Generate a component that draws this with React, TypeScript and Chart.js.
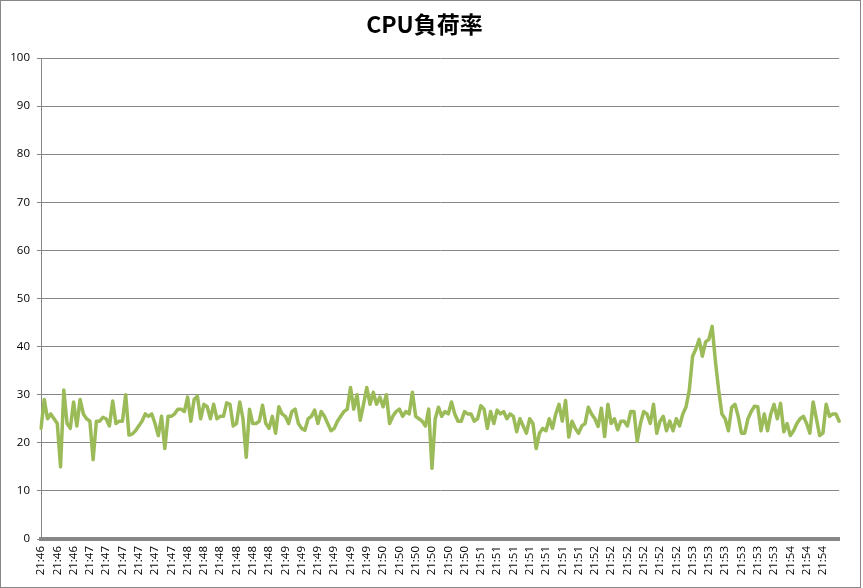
import React, { useEffect, useRef } from "react";
import { Chart, registerables } from "chart.js";

Chart.register(...registerables);

const TITLE = "CPU負荷率";

const TICK_LABELS = [
  "21:46", "21:46", "21:46",
  "21:47", "21:47", "21:47", "21:47", "21:47", "21:47",
  "21:48", "21:48", "21:48", "21:48", "21:48", "21:48",
  "21:49", "21:49", "21:49", "21:49", "21:49", "21:49",
  "21:50", "21:50", "21:50", "21:50", "21:50", "21:50",
  "21:51", "21:51", "21:51", "21:51", "21:51", "21:51", "21:51",
  "21:52", "21:52", "21:52", "21:52", "21:52", "21:52",
  "21:53", "21:53", "21:53", "21:53", "21:53", "21:53",
  "21:54", "21:54", "21:54",
];

const POINTS_PER_LABEL = 5;

const CPU_LOAD = [
  23, 29, 25, 26, 25, 24, 15, 31, 24, 23,
  28.5, 23.5, 29, 26, 25, 24.5, 16.5, 24.5, 24.5, 25.3,
  25, 23.5, 28.7, 24, 24.5, 24.5, 30, 21.6, 21.8, 22.5,
  23.5, 24.5, 26, 25.5, 26, 24, 21.5, 25.5, 18.8, 25.5,
  25.5, 26, 27, 27, 26.5, 29.5, 24.5, 29, 29.7, 25,
  28, 27.5, 25, 28, 25, 25.5, 25.5, 28.3, 28, 23.5,
  24, 28.5, 25, 17, 27, 24, 24, 24.5, 27.8, 24,
  23, 25.5, 22, 27.5, 26, 25.5, 24, 26.5, 27, 24,
  23, 22.6, 25, 25.5, 26.8, 24, 26.5, 25.5, 24, 22.5,
  23, 24.5, 25.5, 26.5, 27, 31.5, 27, 30, 24.7, 28,
  31.5, 28, 30.5, 28, 29.5, 27.5, 30, 24, 25.5, 26.5,
  27, 25.5, 26.5, 26, 30.5, 25.5, 25, 24.5, 23.5, 27,
  14.7, 25, 27.4, 25.5, 26.5, 26, 28.5, 26, 24.5, 24.5,
  26.5, 26, 26, 24.5, 25, 27.7, 27, 23, 26.5, 24,
  26.8, 26, 26.5, 25, 26, 25.5, 22.3, 25, 23.5, 22,
  25, 24, 18.8, 22, 23, 22.5, 25, 23, 26, 28,
  24.5, 28.8, 21.2, 24.5, 23, 22, 23.5, 24, 27.4, 26,
  25, 23.4, 27.2, 21.3, 28, 24, 25, 22.7, 24.5, 24.5,
  23.5, 26.5, 26.5, 20.3, 24, 26.5, 26, 24, 28, 22,
  24.5, 25.5, 22.5, 24.5, 22.5, 25, 23.5, 26, 27.5, 31,
  38, 39.5, 41.5, 38, 41, 41.5, 44.2, 37, 31, 26,
  25, 22.5, 27.4, 28, 25.5, 22, 22, 25, 26.5, 27.6,
  27.5, 22.5, 26, 22.5, 26, 28, 25, 28.2, 22.3, 24,
  21.5, 22.5, 24, 25, 25.5, 24, 22, 28.5, 25, 21.5,
  22, 28, 25.5, 26, 26, 24.5,
];

const Y_MIN = 0;
const Y_MAX = 100;
const Y_STEP = 10;

const CATEGORIES = CPU_LOAD.map((_, i) =>
  i % POINTS_PER_LABEL === 0 ? TICK_LABELS[i / POINTS_PER_LABEL] ?? "" : ""
);

export default function App() {
  const ref = useRef<HTMLCanvasElement>(null);

  useEffect(() => {
    document.body.style.margin = "0";
    const canvas = ref.current;
    if (!canvas) return;
    const axisFont = { family: '"Open Sans", "Liberation Sans", sans-serif', size: 11.5 };
    const chart = new Chart(canvas, {
      type: "line",
      data: {
        labels: CATEGORIES,
        datasets: [
          {
            data: CPU_LOAD,
            borderColor: "#9BBB59",
            backgroundColor: "#9BBB59",
            borderWidth: 3.5,
            pointRadius: 0,
            tension: 0,
            borderJoinStyle: "round",
            borderCapStyle: "round",
            fill: false,
          },
        ],
      },
      options: {
        responsive: false,
        animation: false,
        layout: { padding: { left: 0, right: 12, top: 0, bottom: 0 } },
        plugins: {
          legend: { display: false },
          tooltip: { enabled: false },
          title: {
            display: true,
            text: TITLE,
            color: "#000",
            font: { family: '"Noto Sans CJK JP", sans-serif', size: 23, weight: "bold" },
            padding: { top: 9, bottom: 20.4 },
          },
        },
        scales: {
          x: {
            type: "category",
            offset: false,
            grid: { display: false, drawTicks: false },
            border: { display: true, color: "#878787", width: 4 },
            ticks: {
              autoSkip: false,
              minRotation: 90,
              maxRotation: 90,
              padding: 7,
              color: "#000",
              font: axisFont,
            },
            afterFit: (s: any) => {
              s.height = 48;
            },
          },
          y: {
            min: Y_MIN,
            max: Y_MAX,
            ticks: { stepSize: Y_STEP, padding: 7, color: "#000", font: axisFont },
            grid: { color: "#878787", lineWidth: 1, drawTicks: true, tickLength: 4 },
            border: { display: true, color: "#878787", width: 1 },
            afterFit: (s: any) => {
              s.width = 40;
            },
          },
        },
      },
    });
    return () => chart.destroy();
  }, []);

  return (
    <div
      style={{
        width: 861,
        height: 588,
        border: "1px solid #878787",
        boxSizing: "border-box",
        background: "#fff",
      }}
    >
      <canvas ref={ref} width={859} height={586} style={{ display: "block" }} />
    </div>
  );
}
